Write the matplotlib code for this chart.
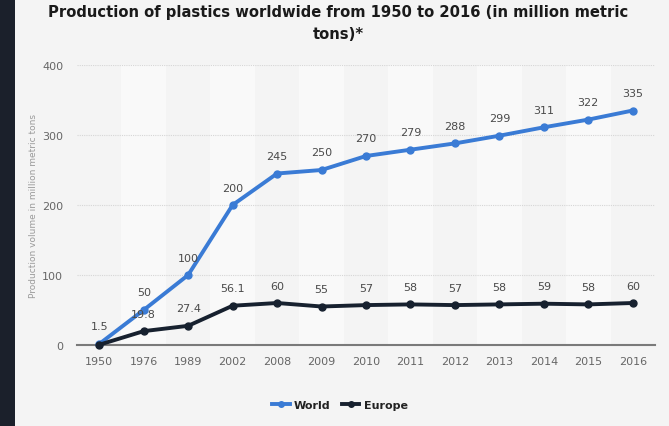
import matplotlib.pyplot as plt
import matplotlib.patches as mpatches

years = ["1950", "1976", "1989", "2002", "2008", "2009", "2010", "2011",
         "2012", "2013", "2014", "2015", "2016"]
world = [1.5, 50, 100, 200, 245, 250, 270, 279, 288, 299, 311, 322, 335]
europe = [0.35, 19.8, 27.4, 56.1, 60, 55, 57, 58, 57, 58, 59, 58, 60]
europe_labels = ["", "19.8", "27.4", "56.1", "60", "55", "57", "58",
                 "57", "58", "59", "58", "60"]
world_labels = ["1.5", "50", "100", "200", "245", "250", "270", "279",
                "288", "299", "311", "322", "335"]

bg = "#f4f4f4"
blue = "#3a7bd5"
navy = "#17212f"

fig = plt.figure(figsize=(6.69, 4.27), dpi=100, facecolor=bg)
# dark strip on the left edge
fig.patches.append(mpatches.Rectangle((0, 0), 15 / 669, 1, transform=fig.transFigure,
                                      facecolor="#1b202b", edgecolor="none", zorder=0))

ax = fig.add_axes([77 / 669, (427 - 346) / 427, 578 / 669, 280 / 427])
ax.set_facecolor(bg)

x = list(range(len(years)))
for i in x:
    if i % 2 == 1:
        ax.axvspan(i - 0.5, i + 0.5, ymin=0, ymax=1, color="#f9f9f9", zorder=0, lw=0)

ax.set_xlim(-0.5, len(years) - 0.5)
ax.set_ylim(0, 400)
ax.set_yticks([0, 100, 200, 300, 400])
ax.yaxis.grid(True, linestyle=(0, (1, 1)), color="#d6d6d6", linewidth=0.8, zorder=1)
ax.set_axisbelow(True)
for s in ["top", "right", "left"]:
    ax.spines[s].set_visible(False)
ax.spines["bottom"].set_color("#7a7a7a")
ax.spines["bottom"].set_linewidth(1.5)
ax.spines["bottom"].set_zorder(2)

ax.set_xticks(x)
ax.set_xticklabels(years)
ax.tick_params(axis="both", length=0, labelsize=8, labelcolor="#666666", pad=8)
ax.tick_params(axis="y", pad=10)

ax.plot(x, world, "-o", color=blue, lw=2.8, ms=5, label="World", zorder=4, clip_on=False)
ax.plot(x, europe, "-o", color=navy, lw=2.8, ms=5, label="Europe", zorder=5, clip_on=False)

for i in x:
    ax.annotate(world_labels[i], (i, world[i]), xytext=(0, 9), textcoords="offset points",
                ha="center", va="bottom", fontsize=8, color="#4a4a4a", zorder=6)
    if europe_labels[i]:
        ax.annotate(europe_labels[i], (i, europe[i]), xytext=(0, 9), textcoords="offset points",
                    ha="center", va="bottom", fontsize=8, color="#4a4a4a", zorder=6)

ax.set_ylabel("Production volume in million metric tons", fontsize=6.5, color="#9a9a9a",
              labelpad=3)

fig.text(0.505, 0.988, "Production of plastics worldwide from 1950 to 2016 (in million metric\ntons)*",
         ha="center", va="top", fontsize=10.6, fontweight="bold", color="#1a1a1a",
         linespacing=1.6)

leg = fig.legend(loc="center", bbox_to_anchor=(0.508, 0.05), ncol=2, frameon=False,
                 prop={"weight": "bold", "size": 8}, handlelength=1.6, columnspacing=1.0,
                 handletextpad=0.4, markerscale=0.8)
for t in leg.get_texts():
    t.set_color("#222222")

fig.savefig("out.png", dpi=100, facecolor=bg)
